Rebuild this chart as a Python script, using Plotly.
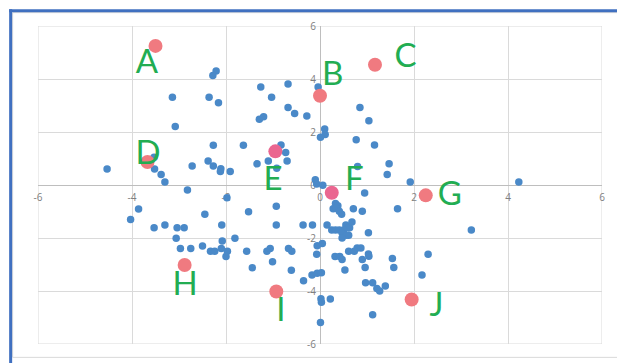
import plotly.graph_objects as go

# Blue data points (x, y)
blue_x = [-2.21, -2.28, -1.26, -0.68, -0.04, -3.14, -2.36, -2.16, -1.03,
          -0.68, -0.54, -0.28, -1.29, -1.20, 0.85, 1.04, -3.08,
          0.10, 0.11, 0.01, 0.77, 1.16, -2.27, -1.63, -0.83,
          -0.73, -0.70, -1.10, -1.34, -0.92,
          -2.38, -2.27, -2.11, -2.12, -1.91, -2.72,
          -4.53, -3.53, -3.52, -3.38, -3.30, -2.82,
          -3.86, -4.03, -3.53, -3.30, -3.04, -2.89, -3.06,
          -2.97, -2.75, -2.50, -2.33, -2.24, -2.10, -1.97, -2.00,
          -2.08, -1.81, -2.09, -2.45, -1.98, -1.52,
          -1.56, -1.44, -1.13, -1.06, -1.01,
          -0.67, -0.60, -0.61, -0.35,
          -0.36, -0.16, -0.93, -0.93,
          -0.17, -0.06, 0.03, -0.06, 0.05, -0.07,
          0.02, 0.03, 0.22, 0.01, 1.12,
          0.97, 1.12, 1.21, 1.27, 1.39,
          0.96, 0.90, 1.03, 1.04, 1.54, 1.57, 2.30, 2.17,
          3.22, 4.23, 1.92, 1.65, 0.95, 0.90, 0.71,
          0.80, 1.47, 1.43, 1.03,
          0.79, 0.87, 0.61, 0.73, 0.32, 0.42, 0.47, 0.53,
          -0.10, -0.07, 0.06,
          0.33, 0.38, 0.28, 0.34, 0.41, 0.46,
          0.15, 0.25, 0.33, 0.41, 0.55, 0.60, 0.63, 0.50, 0.47, 0.56, 0.61, 0.47, 0.68]
blue_y = [4.30, 4.13, 3.70, 3.81, 3.70, 3.31, 3.31, 3.10, 3.31,
          2.92, 2.70, 2.60, 2.48, 2.58, 2.92, 2.42, 2.21,
          2.11, 1.91, 1.80, 1.71, 1.51, 1.50, 1.50, 1.51,
          1.23, 0.91, 0.91, 0.80, 0.63,
          0.91, 0.72, 0.61, 0.51, 0.51, 0.72,
          0.60, 1.05, 0.60, 0.40, 0.11, -0.19,
          -0.91, -1.30, -1.61, -1.51, -1.61, -1.61, -2.01,
          -2.40, -2.40, -2.30, -2.50, -2.50, -2.40, -2.50, -2.70,
          -2.11, -2.01, -1.51, -1.10, -0.48, -1.01,
          -2.50, -3.12, -2.50, -2.40, -2.90,
          -2.40, -2.50, -3.22, -3.61,
          -1.51, -1.51, -0.80, -1.51,
          -3.40, -3.33, -3.31, -2.29, -2.21, -2.61,
          -4.29, -4.42, -4.30, -5.19, -4.90,
          -3.69, -3.69, -3.91, -4.00, -3.81,
          -3.11, -2.81, -2.60, -2.69, -2.77, -3.11, -2.61, -3.40,
          -1.70, 0.11, 0.11, -0.90, -0.30, -0.99, -0.90,
          0.70, 0.80, 0.40, -1.80,
          -2.38, -2.38, -2.50, -2.50, -2.70, -2.70, -2.81, -3.21,
          0.20, 0.04, -0.01,
          -0.70, -0.78, -0.90, -0.88, -0.99, -1.10,
          -1.51, -1.70, -1.70, -1.70, -1.51, -1.61, -1.61, -1.70, -1.80, -1.90, -1.90, -2.00, -1.40]

# Highlighted points
names = ["A", "B", "C", "D", "E", "F", "G", "H", "I", "J"]
red_x = [-3.50, 0.00, 1.17, -3.67, -0.95, 0.25, 2.25, -2.88, -0.93, 1.95]
red_y = [5.25, 3.37, 4.54, 0.87, 1.27, -0.29, -0.39, -3.02, -4.02, -4.32]
red_colors = ["#F07A80", "#F07A80", "#F07A80", "#F07A80", "#EA6690",
              "#EA6690", "#F07A80", "#F07A80", "#F07A80", "#F07A80"]

# Label anchor positions (data units)
label_x = [-3.68, 0.27, 1.82, -3.66, -1.00, 0.73, 2.76, -2.87, -0.83, 2.48]
label_y = [4.54, 4.08, 4.75, 1.11, 0.11, 0.14, -0.45, -3.85, -4.81, -4.63]

tick_vals = [-6, -4, -2, 0, 2, 4, 6]
tick_text = ["-6", "-4", "-2", "0", "2", "4", "6"]
axis_min, axis_max = -6, 6

fig = go.Figure()
fig.add_trace(go.Scatter(x=blue_x, y=blue_y, mode="markers",
                         marker=dict(color="#4A89C8", size=7.5), showlegend=False,
                         hoverinfo="skip"))
fig.add_trace(go.Scatter(x=red_x, y=red_y, mode="markers",
                         marker=dict(color=red_colors, size=14), showlegend=False,
                         hoverinfo="skip"))
fig.add_trace(go.Scatter(x=label_x, y=label_y, mode="text", text=names,
                         textfont=dict(family="Lato, Open Sans, sans-serif", size=33,
                                       color="#22AD52"),
                         showlegend=False, hoverinfo="skip"))

axis_common = dict(range=[axis_min, axis_max], tickvals=tick_vals, ticktext=tick_text,
                   showgrid=True, gridcolor="#DADADA", gridwidth=1,
                   zeroline=True, zerolinecolor="#BEBEBE", zerolinewidth=1,
                   showline=False, ticks="", layer="below traces",
                   tickfont=dict(family="Open Sans, sans-serif", size=10, color="#808080"),
                   fixedrange=True)

fig.update_layout(
    width=617, height=363,
    margin=dict(l=38, r=12, t=26, b=16),
    paper_bgcolor="white", plot_bgcolor="white",
    xaxis=dict(**axis_common, anchor="free", position=0.5, ticklabelstandoff=5),
    yaxis=dict(**axis_common, anchor="free", position=0.5, ticklabelstandoff=4),
    shapes=[
        dict(type="rect", xref="x", yref="y",
             x0=axis_min, x1=axis_max, y0=axis_min, y1=axis_max,
             line=dict(color="#DADADA", width=1), layer="below"),
        dict(type="rect", xref="paper", yref="paper",
             x0=(12.5 - 38) / 567, x1=(640 - 38) / 567,
             y0=(347 - 360.5) / 321, y1=(347 - 12.5) / 321,
             line=dict(color="#D9D9D9", width=1), layer="below"),
        dict(type="line", xref="paper", yref="paper",
             x0=(9 - 38) / 567, x1=(640 - 38) / 567,
             y0=(347 - 10.5) / 321, y1=(347 - 10.5) / 321,
             line=dict(color="#4070C0", width=3)),
        dict(type="line", xref="paper", yref="paper",
             x0=(10.5 - 38) / 567, x1=(10.5 - 38) / 567,
             y0=(347 - 9) / 321, y1=(347 - 380) / 321,
             line=dict(color="#4070C0", width=3)),
    ],
)

fig.write_html("out.html", config={"displayModeBar": False, "staticPlot": True},
               post_script="document.body.style.margin='0';document.body.style.overflow='hidden';")
